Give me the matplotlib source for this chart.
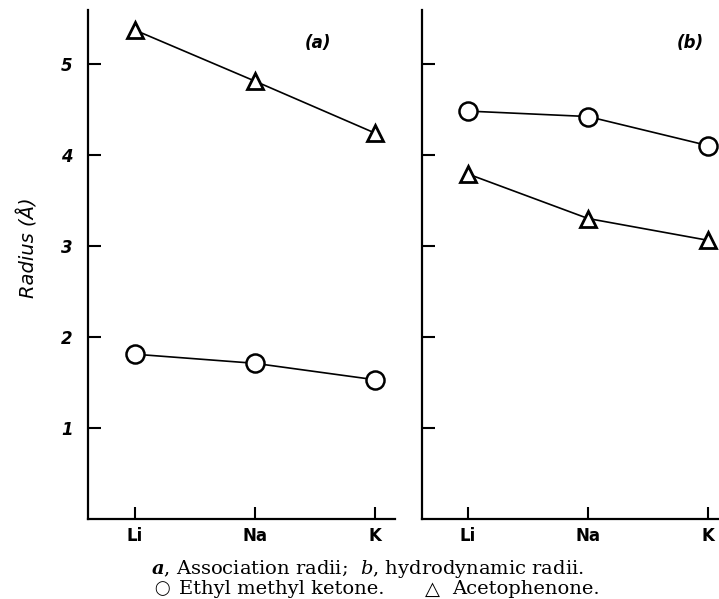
import matplotlib.pyplot as plt

# values (radius in angstrom)
ions = ['Li', 'Na', 'K']
assoc_ketone = [1.81, 1.71, 1.53]
assoc_aceto = [5.37, 4.81, 4.24]
hydro_ketone = [4.48, 4.42, 4.10]
hydro_aceto = [3.79, 3.30, 3.06]
yticks = [1, 2, 3, 4, 5]

plt.rcParams['mathtext.fontset'] = 'custom'
plt.rcParams['mathtext.bf'] = 'DejaVu Serif:italic:bold'
plt.rcParams['mathtext.it'] = 'DejaVu Serif:italic'
plt.rcParams['mathtext.rm'] = 'DejaVu Serif'

W, H = 719, 599
fig = plt.figure(figsize=(W / 100, H / 100), dpi=100)


def box(left, right, top, bottom):
    return [left / W, 1 - bottom / H, (right - left) / W, (bottom - top) / H]


ax_a = fig.add_axes(box(88, 395, 10, 519))
ax_b = fig.add_axes(box(422, 730, 10, 519))

x = range(len(ions))
for ax, ket, ace in [(ax_a, assoc_ketone, assoc_aceto), (ax_b, hydro_ketone, hydro_aceto)]:
    ax.plot(x, ket, color='black', lw=1.2, marker='o', ms=13,
            mfc='white', mec='black', mew=1.8, clip_on=False, zorder=3)
    ax.plot(x, ace, color='black', lw=1.2, marker='^', ms=11,
            mfc='white', mec='black', mew=2.0, clip_on=False, zorder=3)
    ax.set_xlim(-0.39, 2.17)
    ax.set_ylim(0, 5.59)
    for s in ['top', 'right']:
        ax.spines[s].set_visible(False)
    for s in ['left', 'bottom']:
        ax.spines[s].set_linewidth(1.6)
    ax.set_xticks(list(x))
    ax.set_xticklabels(ions, fontsize=12, fontweight='bold', family='DejaVu Sans Condensed')
    ax.set_yticks(yticks)
    ax.tick_params(axis='both', direction='in', length=9, width=1.5)
    ax.tick_params(axis='x', pad=6)
    ax.tick_params(axis='y', pad=11)

ax_a.set_yticklabels([str(v) for v in yticks], fontsize=12, fontweight='bold', fontstyle='italic')
ax_b.set_yticklabels([])
ax_b.set_xlim(-0.38, 2.18)

fig.text(28 / W, 1 - 248 / H, 'Radius (Å)', rotation=90, fontsize=14, fontstyle='italic',
         ha='center', va='center')

fig.text(318 / W, 1 - 43 / H, '(a)', fontsize=12, fontweight='bold', fontstyle='italic',
         ha='center', va='center')
fig.text(690 / W, 1 - 43 / H, '(b)', fontsize=12, fontweight='bold', fontstyle='italic',
         ha='center', va='center')

# caption
fig.text(367 / W, 1 - 569 / H, r'$\mathbf{a}$, Association radii;  $\mathit{b}$, hydrodynamic radii.',
         fontsize=14, family=['DejaVu Serif'], ha='center', va='center')
fig.text(162 / W, 1 - 589 / H, '◯', fontsize=10, family='DejaVu Sans', ha='center', va='center')
fig.text(179 / W, 1 - 589 / H, 'Ethyl methyl ketone.', fontsize=14, family='DejaVu Serif',
         ha='left', va='center')
fig.text(432 / W, 1 - 589 / H, '△', fontsize=14, family='DejaVu Sans', ha='center', va='center')
fig.text(452 / W, 1 - 589 / H, 'Acetophenone.', fontsize=14, family='DejaVu Serif',
         ha='left', va='center')

fig.savefig('out.png', dpi=100)
